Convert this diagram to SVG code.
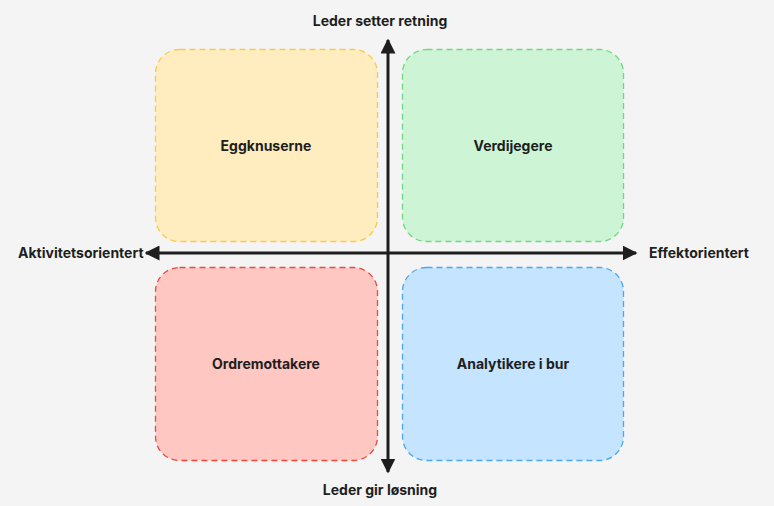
<svg xmlns="http://www.w3.org/2000/svg" width="774" height="506" viewBox="0 0 774 506">
<style>
.q{stroke-width:1.3;stroke-dasharray:6 4}
.t{font-family:Inter,"Liberation Sans",sans-serif;font-weight:700;font-size:14px;fill:#1e1e1e}
.ax{stroke:#1e1e1e;stroke-width:3;fill:none}
</style>
<defs>
<marker id="ah" viewBox="0 0 10 10" refX="9" refY="5" markerWidth="5" markerHeight="5" orient="auto" markerUnits="strokeWidth">
<path d="M0,0 L10,5 L0,10 z" fill="#1e1e1e"/>
</marker>
</defs>
<rect width="774" height="506" fill="#f4f4f4"/>
<g id="eggknuserne">
<rect class="q" x="155.5" y="49.5" width="222" height="192" rx="24" fill="#ffecbf" stroke="#fcc84a"/>
<text class="t" x="266" y="151" text-anchor="middle">Eggknuserne</text>
</g>
<g id="verdijegere">
<rect class="q" x="402.5" y="49.5" width="221" height="192" rx="24" fill="#cdf5d5" stroke="#6fd884"/>
<text class="t" x="513" y="151" text-anchor="middle">Verdijegere</text>
</g>
<g id="ordremottakere">
<rect class="q" x="155.5" y="267.5" width="222" height="193" rx="24" fill="#ffc7c2" stroke="#ec4a3c"/>
<text class="t" x="266" y="369" text-anchor="middle">Ordremottakere</text>
</g>
<g id="analytikere">
<rect class="q" x="402.5" y="267.5" width="221" height="193" rx="24" fill="#c4e4ff" stroke="#4aa8f0"/>
<text class="t" x="513" y="369" text-anchor="middle">Analytikere i bur</text>
</g>
<g id="connectors">
<line class="ax" x1="388" y1="253" x2="388" y2="40" marker-end="url(#ah)"/>
<line class="ax" x1="388" y1="253" x2="388" y2="472" marker-end="url(#ah)"/>
<line class="ax" x1="388" y1="253" x2="146" y2="253" marker-end="url(#ah)"/>
<line class="ax" x1="388" y1="253" x2="636" y2="253" marker-end="url(#ah)"/>
</g>
<g id="labels">
<text class="t" x="380" y="26" text-anchor="middle">Leder setter retning</text>
<text class="t" x="380" y="495" text-anchor="middle">Leder gir løsning</text>
<text class="t" x="18" y="258">Aktivitetsorientert</text>
<text class="t" x="649" y="258">Effektorientert</text>
</g>
</svg>
